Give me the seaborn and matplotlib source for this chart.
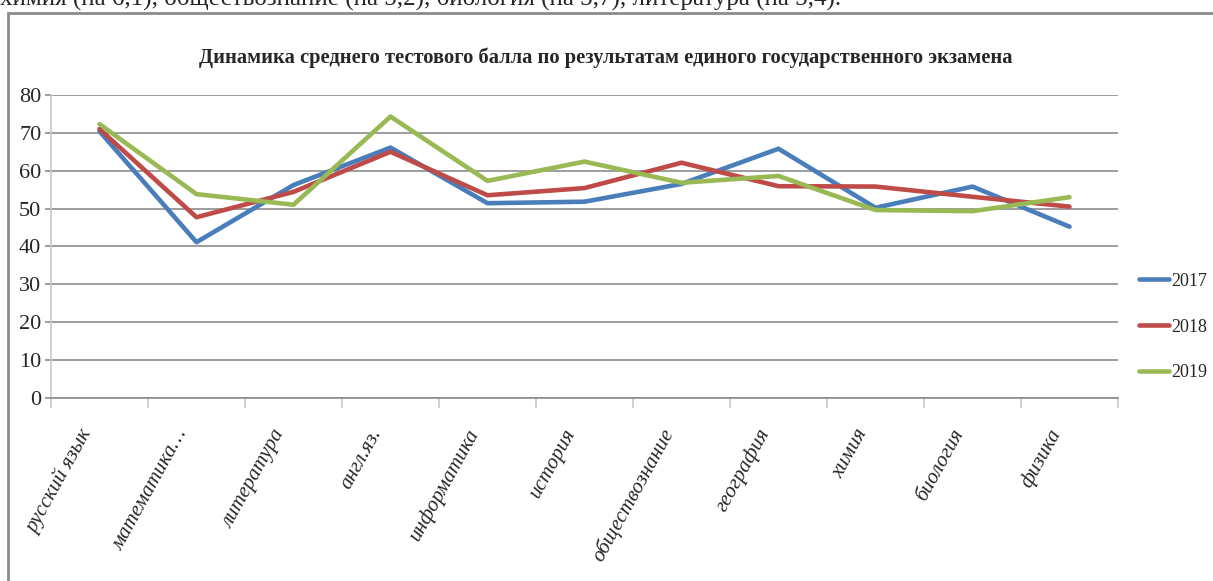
import matplotlib
matplotlib.use("Agg")
import matplotlib.pyplot as plt
from matplotlib.patches import Rectangle
from matplotlib.ticker import FixedLocator, MultipleLocator
from matplotlib.transforms import ScaledTranslation
import seaborn as sns
import pandas as pd

subjects = ["русский язык", "математика…", "литература", "англ.яз.", "информатика",
            "история", "обществознание", "география", "химия", "биология", "физика"]
years = ["2017", "2018", "2019"]
scores_2017 = [70.4, 41.1, 56.2, 66.1, 51.4, 51.8, 56.5, 65.8, 50.2, 55.8, 45.2]
scores_2018 = [71.0, 47.7, 54.4, 65.0, 53.5, 55.4, 62.1, 55.9, 55.8, 53.1, 50.5]
scores_2019 = [72.3, 53.8, 51.0, 74.3, 57.3, 62.4, 56.8, 58.6, 49.6, 49.3, 53.0]
colors = ["#4A7EBB", "#BE4B48", "#98B954"]
title = "Динамика среднего тестового балла по результатам единого государственного экзамена"
top_text = "химия (на 6,1), обществознание (на 5,2), биология (на 5,7), литература (на 5,4)."

rows = []
for yr, vals in zip(years, [scores_2017, scores_2018, scores_2019]):
    for i, v in enumerate(vals):
        rows.append({"pos": i, "subject": subjects[i], "year": yr, "score": v})
df = pd.DataFrame(rows)

sns.set_theme(style="white")
plt.rcParams["font.family"] = ["Liberation Serif", "DejaVu Serif"]

fig = plt.figure(figsize=(12.13, 5.81), dpi=100)
ax = fig.add_axes([51/1213, 1-397.7/581, (1118-51)/1213, (397.7-95)/581])

sns.lineplot(data=df, x="pos", y="score", hue="year", palette=colors,
             linewidth=3.3, sort=False, ax=ax, legend=True)

ax.set_xlim(-0.5, len(subjects) - 0.5)
ax.set_ylim(0, 80)
ax.yaxis.set_major_locator(MultipleLocator(10))
ax.grid(axis="y", color="#8c8c8c", linewidth=1.2)
ax.set_axisbelow(True)
for s in ["top", "right"]:
    ax.spines[s].set_visible(False)
ax.spines["left"].set_color("#c8c8c8")
ax.spines["left"].set_linewidth(1.2)
ax.spines["bottom"].set_color("#8c8c8c")
ax.spines["bottom"].set_linewidth(1.2)

ax.set_xticks(range(len(subjects)))
ax.set_xticklabels(subjects, rotation=61, ha="right", va="top", rotation_mode="anchor",
                   fontstyle="italic", fontsize=15)
ax.tick_params(axis="x", which="major", length=0, pad=20)
offset = ScaledTranslation(-21/100, 0, fig.dpi_scale_trans)
for lab in ax.get_xticklabels():
    lab.set_transform(lab.get_transform() + offset)
ax.xaxis.set_minor_locator(FixedLocator([i - 0.5 for i in range(len(subjects) + 1)]))
ax.tick_params(axis="x", which="minor", length=7, width=1.2, color="#c8c8c8", bottom=True)
ax.tick_params(axis="y", length=4, width=1.2, color="#8c8c8c", labelsize=16, pad=3, left=True)
ax.set_xlabel("")
ax.set_ylabel("")

handles, labels = ax.get_legend_handles_labels()
ax.legend(handles, labels, loc="center left", bbox_to_anchor=(1139/1213, 1-327/581),
          bbox_transform=fig.transFigure, frameon=False, fontsize=13,
          handlelength=1.65, handletextpad=0.15, labelspacing=1.6, borderaxespad=0,
          borderpad=0)

fig.text(606/1213, 1-58/581, title, ha="center", va="center", fontsize=14.8,
         fontweight="bold")
fig.text(0, 1 + 2/581, top_text, ha="left", va="center", fontsize=18)

fig.patches.append(Rectangle((8/1213, -0.05), 1.2, 1.05 - 13/581, transform=fig.transFigure,
                             fill=False, edgecolor="#8c8c8c", linewidth=2))

fig.savefig("out.png", dpi=100)
